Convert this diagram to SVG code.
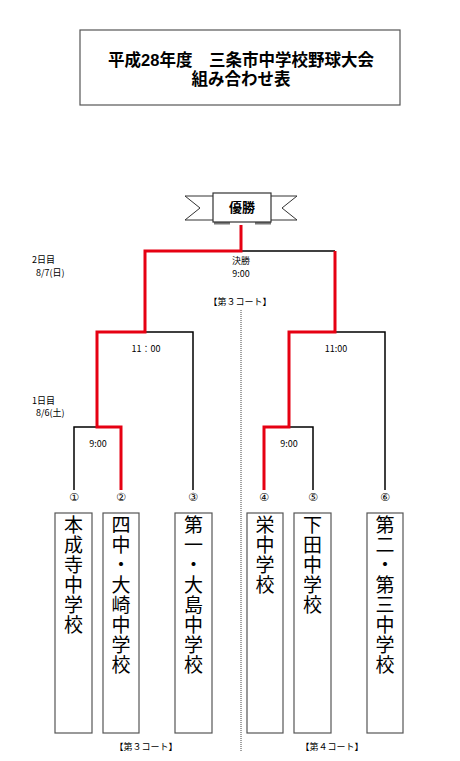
<svg xmlns="http://www.w3.org/2000/svg" width="460" height="761" viewBox="0 0 460 761">
<style>
.t{font-family:"Noto Sans CJK JP","DejaVu Sans",sans-serif;fill:#000}
.title{font-family:"Liberation Sans","Noto Sans CJK JP",sans-serif;font-size:16.5px;font-weight:bold;text-anchor:middle;fill:#000}
.sm{font-size:9px}
.mid{text-anchor:middle}
.num{font-family:"DejaVu Sans",sans-serif;font-size:11px;text-anchor:middle;fill:#000}
.nm{font-family:"Noto Sans CJK JP",sans-serif;font-size:19px;fill:#000;writing-mode:vertical-rl;letter-spacing:1px}
.blk{stroke:#000;stroke-width:1.5;fill:none}
.red{stroke:#e60012;stroke-width:3;fill:none}
.box{fill:#fff;stroke:#555;stroke-width:1.2}
</style>
<rect width="460" height="761" fill="#fff"/>
<g id="title">
<rect x="80" y="30" width="320" height="75" fill="#fff" stroke="#555" stroke-width="1.2"/>
<text class="title" x="241" y="66">平成28年度　三条市中学校野球大会</text>
<text class="title" x="241" y="85">組み合わせ表</text>
</g>
<g id="banner">
<polygon points="185,196 215,196 215,220 185,220 200,208" fill="#fff" stroke="#333" stroke-width="1"/>
<polygon points="297,196 269,196 269,220 297,220 282,208" fill="#fff" stroke="#333" stroke-width="1"/>
<rect x="214" y="221" width="16" height="3.5" fill="#777"/>
<rect x="255" y="221" width="16" height="3.5" fill="#777"/>
<rect x="213" y="193" width="58" height="29" fill="#fff" stroke="#333" stroke-width="1.2"/>
<text class="t mid" x="242" y="212" font-size="13" font-weight="bold">優勝</text>
</g>
<g id="labels">
<text class="t sm" x="32" y="263">2日目</text>
<text class="t sm" x="36" y="276">8/7(日)</text>
<text class="t sm" x="32" y="404">1日目</text>
<text class="t sm" x="36" y="416">8/6(土)</text>
<text class="t sm mid" x="241" y="264">決勝</text>
<text class="t sm mid" x="241" y="277">9:00</text>
<text class="t sm mid" x="240" y="305">【第３コート】</text>
<text class="t sm mid" x="146" y="352">11：00</text>
<text class="t sm mid" x="336" y="352">11:00</text>
<text class="t sm mid" x="98" y="447">9:00</text>
<text class="t sm mid" x="289" y="447">9:00</text>
<text class="t sm mid" x="146" y="750">【第３コート】</text>
<text class="t sm mid" x="332" y="750">【第４コート】</text>
</g>
<g id="connectors">
<line x1="241" y1="310" x2="241" y2="752" stroke="#444" stroke-width="1" stroke-dasharray="1,1"/>
<polyline class="blk" points="241,251 335,251"/>
<polyline class="blk" points="145,332 193,332 193,490"/>
<polyline class="blk" points="97,427 74,427 74,490"/>
<polyline class="blk" points="336,332 385,332 385,490"/>
<polyline class="blk" points="289,427 313,427 313,490"/>
<polyline class="red" points="241,225 241,251 145,251 145,332 97,332 97,427 121,427 121,490"/>
<polyline class="red" points="335,251 335,332 289,332 289,427 264,427 264,490"/>
</g>
<g id="nums">
<text class="num" x="74" y="501">①</text>
<text class="num" x="121" y="501">②</text>
<text class="num" x="193" y="501">③</text>
<text class="num" x="264" y="501">④</text>
<text class="num" x="313" y="501">⑤</text>
<text class="num" x="385" y="501">⑥</text>
</g>
<g id="team1">
<rect class="box" x="55" y="513" width="37" height="220"/>
<text class="nm" x="73.5" y="515">本成寺中学校</text>
</g>
<g id="team2">
<rect class="box" x="103" y="513" width="36" height="220"/>
<text class="nm" x="121" y="515">四中・大崎中学校</text>
</g>
<g id="team3">
<rect class="box" x="175" y="513" width="37" height="220"/>
<text class="nm" x="193.5" y="515">第一・大島中学校</text>
</g>
<g id="team4">
<rect class="box" x="247" y="513" width="36" height="220"/>
<text class="nm" x="265" y="515">栄中学校</text>
</g>
<g id="team5">
<rect class="box" x="294" y="513" width="37" height="220"/>
<text class="nm" x="312.5" y="515">下田中学校</text>
</g>
<g id="team6">
<rect class="box" x="367" y="513" width="36" height="220"/>
<text class="nm" x="385" y="515">第二・第三中学校</text>
</g>
</svg>
